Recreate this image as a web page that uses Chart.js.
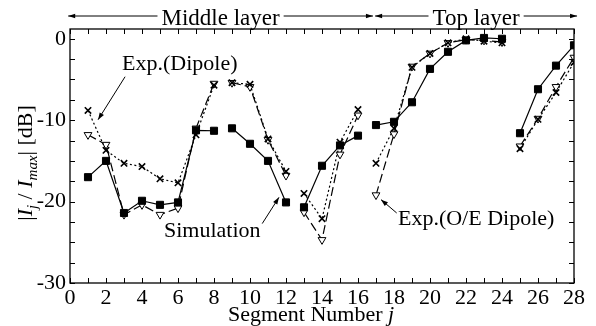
<!DOCTYPE html>
<html><head><meta charset="utf-8">
<script src="https://cdn.jsdelivr.net/npm/chart.js@4.4.0/dist/chart.umd.min.js"></script>
<style>html,body{margin:0;padding:0;background:#fff;}#wrap{width:596px;height:326px;}</style>
</head><body><div id="wrap"><canvas id="c" width="596" height="326"></canvas></div>
<script>
// ---- data ----
const segments = [1,2,3,4,5,6,7,8,9,10,11,12,13,14,15,16,17,18,19,20,21,22,23,24,25,26,27,28];
const simulation = [-17.0,-15.0,-21.4,-19.9,-20.4,-20.1,-11.25,-11.3,-11.0,-12.9,-15.0,-20.1,-20.7,-15.6,-13.1,-11.9,-10.6,-10.2,-7.8,-3.7,-1.6,-0.2,0.1,0.0,-11.6,-6.2,-3.3,-0.8];
const expDipole = [-8.8,-13.7,-15.3,-15.7,-17.2,-17.7,-11.8,-5.7,-5.4,-5.6,-12.3,-16.3,-19.0,-22.1,-12.7,-8.7,-15.3,-11.0,-3.5,-1.8,-0.5,0.0,-0.3,-0.5,-13.5,-9.9,-6.6,-2.9];
const expOEDipole = [-11.8,-13.0,-21.6,-20.4,-21.6,-20.8,-11.0,-5.5,-5.4,-5.9,-12.4,-16.8,-21.3,-24.7,-14.2,-9.4,-19.2,-11.7,-3.4,-1.8,-0.5,-0.1,-0.2,-0.4,-13.2,-9.8,-5.9,-2.3];
const groupEnds = [8,12,16,24];
const xTickValues = [0,1,2,3,4,5,6,7,8,9,10,11,12,13,14,15,16,17,18,19,20,21,22,23,24,25,26,27,28];
const xTickLabels = [0,2,4,6,8,10,12,14,16,18,20,22,24,26,28];
const yTickValues = [-30,-27.5,-25,-22.5,-20,-17.5,-15,-12.5,-10,-7.5,-5,-2.5,0];
const yTickLabels = [0,-10,-20,-30];
const layers = [{label:'Middle layer', from:-0.1, to:16.83}, {label:'Top layer', from:16.95, to:28.17}];
const notes = [
  {text:'Exp.(Dipole)', tx:2.89, ty:-3.8, ax0:3.06, ay0:-4.66, ax1:1.56, ay1:-9.94},
  {text:'Simulation', tx:5.22, ty:-24.3, ax0:10.68, ay0:-22.7, ax1:11.61, ay1:-19.48},
  {text:'Exp.(O/E Dipole)', tx:18.22, ty:-22.83, ax0:18.15, ay0:-21.4, ax1:17.28, ay1:-19.76}
];

const SERIF = '"Liberation Serif","Times New Roman",serif';
const brk = ctx => groupEnds.includes(segments[ctx.p0DataIndex]) ? 'rgba(0,0,0,0)' : '#000';
const pts = arr => segments.map((s,i)=>({x:s, y:arr[i]}));

function arrowHead(ctx, x0,y0,x1,y1, len, wid){
  const a = Math.atan2(y1-y0, x1-x0);
  ctx.beginPath();
  ctx.moveTo(x1,y1);
  ctx.lineTo(x1 - len*Math.cos(a) + wid*Math.sin(a), y1 - len*Math.sin(a) - wid*Math.cos(a));
  ctx.lineTo(x1 - len*Math.cos(a) - wid*Math.sin(a), y1 - len*Math.sin(a) + wid*Math.cos(a));
  ctx.closePath(); ctx.fill();
}

const decor = {
  id:'decor',
  afterDatasetsDraw(chart){
    const {ctx, chartArea:ca, scales:{x, y}} = chart;
    ctx.save();
    ctx.strokeStyle = '#000'; ctx.fillStyle = '#000'; ctx.setLineDash([]);
    // frame
    ctx.lineWidth = 1.3;
    ctx.strokeRect(ca.left, ca.top, ca.right-ca.left, ca.bottom-ca.top);
    ctx.lineWidth = 1;
    ctx.beginPath();
    xTickValues.forEach(v=>{
      const px = Math.round(x.getPixelForValue(v))+0.5;
      ctx.moveTo(px, ca.bottom); ctx.lineTo(px, ca.bottom-5);
      ctx.moveTo(px, ca.top); ctx.lineTo(px, ca.top+5);
    });
    yTickValues.forEach(v=>{
      const py = Math.round(y.getPixelForValue(v))+0.5;
      ctx.moveTo(ca.left, py); ctx.lineTo(ca.left+5, py);
      ctx.moveTo(ca.right, py); ctx.lineTo(ca.right-5, py);
    });
    ctx.stroke();
    // layer arrows
    ctx.font = '23px ' + SERIF;
    ctx.textBaseline = 'alphabetic';
    const ly = ca.top - 13;
    layers.forEach(L=>{
      const x0 = x.getPixelForValue(L.from), x1 = x.getPixelForValue(L.to);
      const w = ctx.measureText(L.label).width;
      const cx = (x0+x1)/2;
      ctx.textAlign = 'center';
      ctx.fillText(L.label, cx, ca.top - 4);
      ctx.lineWidth = 1;
      ctx.beginPath();
      ctx.moveTo(x0, ly); ctx.lineTo(cx - w/2 - 4, ly);
      ctx.moveTo(cx + w/2 + 4, ly); ctx.lineTo(x1, ly);
      ctx.stroke();
      arrowHead(ctx, x0+10, ly, x0, ly, 7, 2.2);
      arrowHead(ctx, x1-10, ly, x1, ly, 7, 2.2);
    });
    // annotations
    ctx.font = '22px ' + SERIF;
    ctx.textAlign = 'left';
    notes.forEach(n=>{
      ctx.fillText(n.text, x.getPixelForValue(n.tx), y.getPixelForValue(n.ty));
      const a0x = x.getPixelForValue(n.ax0), a0y = y.getPixelForValue(n.ay0);
      const a1x = x.getPixelForValue(n.ax1), a1y = y.getPixelForValue(n.ay1);
      ctx.lineWidth = 1;
      ctx.beginPath(); ctx.moveTo(a0x,a0y); ctx.lineTo(a1x,a1y); ctx.stroke();
      arrowHead(ctx, a0x,a0y,a1x,a1y, 7, 2.5);
    });
    // x title
    const xt1 = 'Segment Number ', xt2 = 'j';
    ctx.font = '22px ' + SERIF;
    const w1 = ctx.measureText(xt1).width;
    ctx.font = 'italic 22px ' + SERIF;
    const w2 = ctx.measureText(xt2).width;
    let sx = (ca.left+ca.right)/2 - 11 - (w1+w2)/2;
    ctx.font = '22px ' + SERIF; ctx.fillText(xt1, sx, 321);
    ctx.font = 'italic 22px ' + SERIF; ctx.fillText(xt2, sx+w1, 321);
    // y title (rotated)
    const parts = [
      {t:'|', f:'22px', dy:0},
      {t:'I', f:'italic 22px', dy:0},
      {t:'j', f:'italic 15px', dy:5},
      {t:' / ', f:'22px', dy:0},
      {t:'I', f:'italic 22px', dy:0},
      {t:'max', f:'italic 15px', dy:5},
      {t:'| [dB]', f:'22px', dy:0}
    ];
    let total = 0;
    parts.forEach(p=>{ctx.font = p.f+' '+SERIF; p.w = ctx.measureText(p.t).width; total += p.w;});
    ctx.translate(32, (ca.top+ca.bottom)/2 + 7);
    ctx.rotate(-Math.PI/2);
    let cx = -total/2;
    parts.forEach(p=>{ctx.font = p.f+' '+SERIF; ctx.fillText(p.t, cx, p.dy); cx += p.w;});
    ctx.restore();
  }
};

new Chart(document.getElementById('c'), {
  type:'line',
  data:{datasets:[
    {label:'Simulation', data:pts(simulation), borderColor:'#000', borderWidth:1.2,
     pointStyle:'rect', pointRadius:5, pointBackgroundColor:'#000', pointBorderColor:'#000', pointBorderWidth:1,
     segment:{borderColor:brk}},
    {label:'Exp.(Dipole)', data:pts(expDipole), borderColor:'#000', borderWidth:1.2, borderDash:[2,2.5],
     pointStyle:'crossRot', pointRadius:4.5, pointBorderColor:'#000', pointBorderWidth:1.6,
     segment:{borderColor:brk}},
    {label:'Exp.(O/E Dipole)', data:pts(expOEDipole), borderColor:'#000', borderWidth:1.2, borderDash:[9,4],
     pointStyle:'triangle', rotation:180, pointRadius:4.5, pointBackgroundColor:'#fff', pointBorderColor:'#000', pointBorderWidth:1,
     segment:{borderColor:brk}}
  ]},
  options:{
    responsive:false, animation:false, devicePixelRatio:1,
    layout:{padding:{top:29, right:22, left:0, bottom:0}},
    plugins:{legend:{display:false}, tooltip:{enabled:false}},
    scales:{
      x:{type:'linear', min:0, max:28,
        afterBuildTicks:s=>{s.ticks = xTickLabels.map(v=>({value:v}));},
        afterFit:s=>{s.height = 43;},
        ticks:{autoSkip:false, maxRotation:0, padding:2, color:'#000', font:{family:SERIF, size:22}},
        grid:{display:false, drawTicks:false}, border:{display:false}},
      y:{type:'linear', min:-30, max:1.2,
        afterBuildTicks:s=>{s.ticks = yTickLabels.map(v=>({value:v}));},
        afterFit:s=>{s.width = 70;},
        ticks:{padding:4, color:'#000', font:{family:SERIF, size:22}},
        grid:{display:false, drawTicks:false}, border:{display:false}}
    }
  },
  plugins:[decor]
});
</script></body></html>
